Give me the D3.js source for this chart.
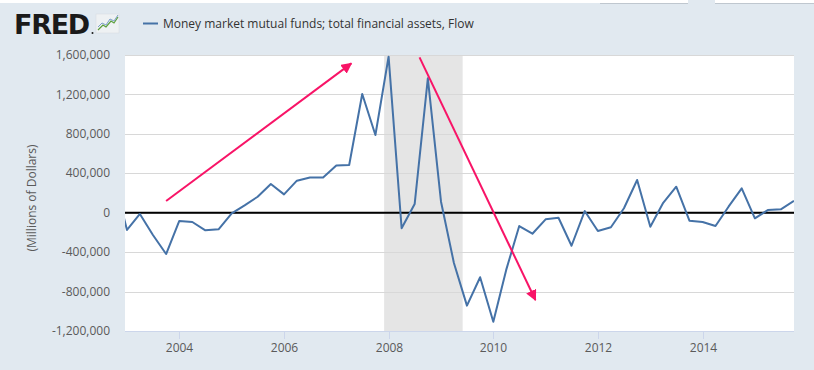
<!DOCTYPE html>
<html>
<head>
<meta charset="utf-8">
<script src="https://cdn.jsdelivr.net/npm/d3@7"></script>
<style>
  html, body { margin: 0; padding: 0; background: #e1e9f0; }
  svg { display: block; }
</style>
</head>
<body>
<svg id="chart" width="814" height="370"></svg>
<script>
// ---- Data ----
const seriesName = "Money market mutual funds; total financial assets, Flow";
const yAxisTitle = "(Millions of Dollars)";
const quarters = [
  "2002-10-01",
  "2003-01-01","2003-04-01","2003-07-01","2003-10-01",
  "2004-01-01","2004-04-01","2004-07-01","2004-10-01",
  "2005-01-01","2005-04-01","2005-07-01","2005-10-01",
  "2006-01-01","2006-04-01","2006-07-01","2006-10-01",
  "2007-01-01","2007-04-01","2007-07-01","2007-10-01",
  "2008-01-01","2008-04-01","2008-07-01","2008-10-01",
  "2009-01-01","2009-04-01","2009-07-01","2009-10-01",
  "2010-01-01","2010-04-01","2010-07-01","2010-10-01",
  "2011-01-01","2011-04-01","2011-07-01","2011-10-01",
  "2012-01-01","2012-04-01","2012-07-01","2012-10-01",
  "2013-01-01","2013-04-01","2013-07-01","2013-10-01",
  "2014-01-01","2014-04-01","2014-07-01","2014-10-01",
  "2015-01-01","2015-04-01","2015-07-01","2015-10-01"
];
const flowValues = [
  350000,
  -175000, -13000, -226000, -419000,
  -84000, -94000, -179000, -168000,
  -6000, 75000, 162000, 291000,
  186000, 325000, 357000, 357000,
  479000, 484000, 1204000, 788000,
  1583000, -158000, 88000, 1363000,
  112000, -510000, -943000, -655000,
  -1106000, -580000, -135000, -213000,
  -67000, -51000, -335000, 17000,
  -186000, -148000, 45000, 332000,
  -142000, 101000, 264000, -81000,
  -94000, -135000, 61000, 247000,
  -57000, 27000, 34000, 120000
];
const yTickValues = [-1200000, -800000, -400000, 0, 400000, 800000, 1200000, 1600000];
const yTickLabels = ["-1,200,000", "-800,000", "-400,000", "0", "400,000", "800,000", "1,200,000", "1,600,000"];
const xTickYears = [2004, 2006, 2008, 2010, 2012, 2014];
const xTickLabels = ["2004", "2006", "2008", "2010", "2012", "2014"];
const xDomain = ["2002-12-18", "2015-10-01"];
const yDomain = [-1200000, 1600000];
const recession = ["2007-12-01", "2009-06-01"];
// annotation arrows in data units: [date, value]
const arrowStarts = [["2003-10-01", 119000], ["2008-08-04", 1576000]];
const arrowEnds = [["2007-04-16", 1515000], ["2010-10-22", -886000]];

// ---- Layout ----
const parse = d3.utcParse("%Y-%m-%d");
const svg = d3.select("#chart");
const W = 814, H = 370;
const plot = { left: 125, right: 794, top: 55, bottom: 331 };

svg.append("rect").attr("width", W).attr("height", H).attr("fill", "#e1e9f0");

// top white strip (tab fragments)
svg.append("rect").attr("x", 0).attr("y", 0).attr("width", 688).attr("height", 3).attr("fill", "#ffffff");
svg.append("rect").attr("x", 715).attr("y", 0).attr("width", 99).attr("height", 3).attr("fill", "#ffffff");
svg.append("line").attr("x1", 600).attr("x2", 688).attr("y1", 3.5).attr("y2", 3.5).attr("stroke", "#bfc7cf");
svg.append("line").attr("x1", 715).attr("x2", 814).attr("y1", 3.5).attr("y2", 3.5).attr("stroke", "#bfc7cf");

const x = d3.scaleUtc().domain(xDomain.map(parse)).range([plot.left, plot.right]);
const y = d3.scaleLinear().domain(yDomain).range([plot.bottom, plot.top]);

// plot background
svg.append("rect")
  .attr("x", plot.left).attr("y", plot.top)
  .attr("width", plot.right - plot.left).attr("height", plot.bottom - plot.top)
  .attr("fill", "#ffffff");

svg.append("clipPath").attr("id", "clip").append("rect")
  .attr("x", plot.left).attr("y", plot.top)
  .attr("width", plot.right - plot.left).attr("height", plot.bottom - plot.top);

// recession shading
svg.append("rect")
  .attr("x", x(parse(recession[0]))).attr("y", plot.top)
  .attr("width", x(parse(recession[1])) - x(parse(recession[0])))
  .attr("height", plot.bottom - plot.top)
  .attr("fill", "#e5e5e5");

// gridlines
svg.append("g").selectAll("line").data(yTickValues).join("line")
  .attr("x1", plot.left).attr("x2", plot.right)
  .attr("y1", d => Math.round(y(d)) + 0.5).attr("y2", d => Math.round(y(d)) + 0.5)
  .attr("stroke", "#d8d8d8").attr("stroke-width", 1);

// y tick labels
svg.append("g").selectAll("text").data(yTickValues).join("text")
  .attr("x", 110).attr("y", d => y(d))
  .attr("dy", "0.35em")
  .attr("text-anchor", "end")
  .attr("font-family", "'Open Sans', sans-serif").attr("font-size", 12)
  .attr("fill", "#5a5a5a")
  .text((d, i) => yTickLabels[i]);

// y axis title
svg.append("text")
  .attr("transform", `translate(32, ${(plot.top + plot.bottom) / 2 + 5}) rotate(-90)`)
  .attr("text-anchor", "middle").attr("dy", "0.35em")
  .attr("font-family", "'Open Sans', sans-serif").attr("font-size", 12)
  .attr("fill", "#5a5a5a")
  .text(yAxisTitle);

// x axis line
svg.append("line")
  .attr("x1", plot.left).attr("x2", plot.right)
  .attr("y1", plot.bottom + 0.5).attr("y2", plot.bottom + 0.5)
  .attr("stroke", "#ccd6eb");

// x ticks and labels
const xTickDates = xTickYears.map(yr => new Date(Date.UTC(yr, 0, 1)));
const xt = svg.append("g").selectAll("g").data(xTickDates).join("g")
  .attr("transform", d => `translate(${Math.round(x(d)) + 0.5},0)`);
xt.append("line").attr("y1", plot.bottom).attr("y2", plot.bottom + 8).attr("stroke", "#ccd6eb");
xt.append("text")
  .attr("y", plot.bottom + 21)
  .attr("text-anchor", "middle")
  .attr("font-family", "'Open Sans', sans-serif").attr("font-size", 12)
  .attr("fill", "#5a5a5a")
  .text((d, i) => xTickLabels[i]);

// zero line
svg.append("line")
  .attr("x1", plot.left).attr("x2", plot.right)
  .attr("y1", y(0)).attr("y2", y(0))
  .attr("stroke", "#000000").attr("stroke-width", 2);

// data line
const data = quarters.map((q, i) => ({ date: parse(q), value: flowValues[i] }));
const line = d3.line().x(d => x(d.date)).y(d => y(d.value));
svg.append("path")
  .datum(data)
  .attr("clip-path", "url(#clip)")
  .attr("d", line)
  .attr("fill", "none")
  .attr("stroke", "#4572a7")
  .attr("stroke-width", 2)
  .attr("stroke-linejoin", "round");

// annotation arrows
const arrowColor = "#f81467";
const defs = svg.append("defs");
defs.append("marker")
  .attr("id", "arrowhead")
  .attr("viewBox", "0 0 10 10")
  .attr("refX", 9).attr("refY", 5)
  .attr("markerWidth", 5.5).attr("markerHeight", 5.5)
  .attr("markerUnits", "strokeWidth")
  .attr("orient", "auto")
  .append("path").attr("d", "M0,0 L10,5 L0,10 Z").attr("fill", arrowColor);

svg.append("g").selectAll("line").data(arrowStarts).join("line")
  .attr("x1", d => x(parse(d[0]))).attr("y1", d => y(d[1]))
  .attr("x2", (d, i) => x(parse(arrowEnds[i][0]))).attr("y2", (d, i) => y(arrowEnds[i][1]))
  .attr("stroke", arrowColor).attr("stroke-width", 2)
  .attr("marker-end", "url(#arrowhead)");

// FRED logo
svg.append("text")
  .attr("x", 14).attr("y", 34)
  .attr("font-family", "'DejaVu Sans', sans-serif")
  .attr("font-weight", "bold").attr("font-size", 26)
  .attr("letter-spacing", -1.2)
  .attr("textLength", 75).attr("lengthAdjust", "spacingAndGlyphs")
  .attr("fill", "#1a1a1a")
  .text("FRED");
svg.append("circle").attr("cx", 92.5).attr("cy", 33).attr("r", 1).attr("fill", "#1a1a1a");
const logo = svg.append("g").attr("transform", "translate(96,14)");
logo.append("rect").attr("width", 23).attr("height", 19).attr("fill", "#eef1f3").attr("stroke", "#d5dadf").attr("stroke-width", 0.5);
logo.append("path").attr("d", "M2,16 L7,11 L10,13 L15,7 L18,9 L22,3")
  .attr("fill", "none").attr("stroke", "#5a9e3a").attr("stroke-width", 1.2);
logo.append("path").attr("d", "M2,13 L6,9 L10,11 L14,5 L18,7 L22,1")
  .attr("fill", "none").attr("stroke", "#7b9ec8").attr("stroke-width", 1);

// legend
svg.append("line")
  .attr("x1", 143).attr("x2", 158).attr("y1", 23.5).attr("y2", 23.5)
  .attr("stroke", "#4572a7").attr("stroke-width", 2);
svg.append("text")
  .attr("x", 163).attr("y", 24).attr("dy", "0.35em")
  .attr("font-family", "'Open Sans', sans-serif").attr("font-size", 12)
  .attr("fill", "#333333")
  .text(seriesName);
</script>
</body>
</html>
